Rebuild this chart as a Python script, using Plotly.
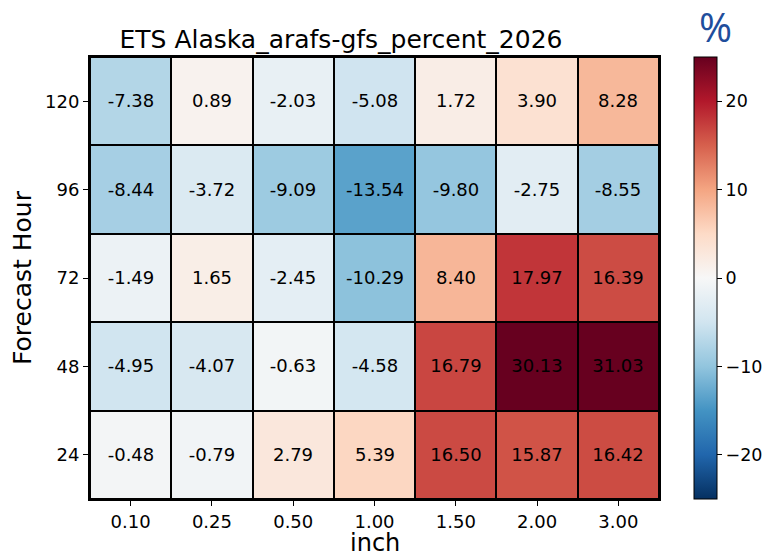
import plotly.graph_objects as go

thresholds = ["0.10", "0.25", "0.50", "1.00", "1.50", "2.00", "3.00"]
hours = ["24", "48", "72", "96", "120"]
# rows ordered as hours (bottom to top)
values = [
    [-0.48, -0.79, 2.79, 5.39, 16.50, 15.87, 16.42],
    [-4.95, -4.07, -0.63, -4.58, 16.79, 30.13, 31.03],
    [-1.49, 1.65, -2.45, -10.29, 8.40, 17.97, 16.39],
    [-8.44, -3.72, -9.09, -13.54, -9.80, -2.75, -8.55],
    [-7.38, 0.89, -2.03, -5.08, 1.72, 3.90, 8.28],
]
cbar_ticks = [-20, -10, 0, 10, 20]

rdbu_r = [
    [0.0, "#053061"], [0.1, "#2166ac"], [0.2, "#4393c3"], [0.3, "#92c5de"],
    [0.4, "#d1e5f0"], [0.5, "#f7f7f7"], [0.6, "#fddbc7"], [0.7, "#f4a582"],
    [0.8, "#d6604d"], [0.9, "#b2182b"], [1.0, "#67001f"],
]

font = "DejaVu Sans"
L, R, T, B = 90, 112, 57, 58
W, H = 771, 557
pw, ph = W - L - R, H - T - B

fig = go.Figure(go.Heatmap(
    z=values,
    x=list(range(len(thresholds))),
    y=list(range(len(hours))),
    colorscale=rdbu_r, zmin=-25, zmax=25,
    xgap=2, ygap=2,
    texttemplate="%{z:.2f}",
    textfont=dict(family=font, size=18, color="black"),
    hoverinfo="skip",
    colorbar=dict(
        x=(694 - L) / pw, xanchor="left", xpad=0, y=0, yanchor="bottom", ypad=0,
        len=1, lenmode="fraction", thickness=23, thicknessmode="pixels",
        outlinewidth=1, outlinecolor="black",
        tickvals=cbar_ticks, ticks="outside", ticklen=5, tickcolor="black",
        tickfont=dict(family=font, size=17.5, color="black"),
    ),
))

fig.update_layout(
    width=W, height=H,
    margin=dict(l=L, r=R, t=T, b=B, autoexpand=False),
    paper_bgcolor="white", plot_bgcolor="black",
    title=dict(text="ETS Alaska_arafs-gfs_percent_2026", x=341 / W, xanchor="center",
               y=1 - 39 / H, yanchor="middle",
               font=dict(family=font, size=25, color="black")),
    annotations=[
        dict(text="%", xref="paper", yref="paper", x=(715 - L) / pw, y=1 + (T - 26) / ph,
             xanchor="center", yanchor="middle", showarrow=False,
             font=dict(family="Open Sans", size=40, color="#1f4e9c")),
        dict(text="inch", xref="paper", yref="paper", x=0.5, y=-(543 - (H - B)) / ph,
             xanchor="center", yanchor="middle", showarrow=False,
             font=dict(family=font, size=24, color="black")),
        dict(text="Forecast Hour", xref="paper", yref="paper", x=(22 - L) / pw, y=0.5,
             xanchor="center", yanchor="middle", showarrow=False, textangle=-90,
             font=dict(family=font, size=25, color="black")),
    ],
)
fig.update_xaxes(
    tickvals=list(range(len(thresholds))), ticktext=thresholds,
    range=[-0.5, len(thresholds) - 0.5],
    ticks="outside", ticklen=5, tickcolor="black", tickwidth=1,
    showline=True, linewidth=2, linecolor="black", mirror=True,
    showgrid=False, zeroline=False, automargin=False,
    tickfont=dict(family=font, size=18, color="black"),
)
fig.update_yaxes(
    tickvals=list(range(len(hours))), ticktext=hours,
    range=[-0.5, len(hours) - 0.5],
    ticks="outside", ticklen=5, tickcolor="black", tickwidth=1,
    showline=True, linewidth=2, linecolor="black", mirror=True,
    showgrid=False, zeroline=False, automargin=False,
    tickfont=dict(family=font, size=18, color="black"),
)

fig.write_html("out.html", config={"displayModeBar": False},
               post_script="document.body.style.margin='0';")
